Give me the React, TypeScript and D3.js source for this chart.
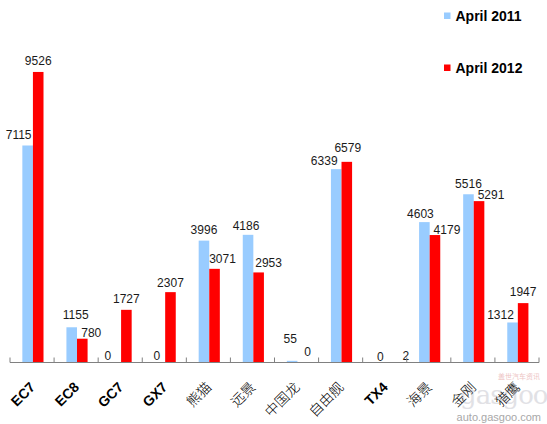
import React from "react";
import * as d3 from "d3";

// models and monthly sales
const categories = ["EC7", "EC8", "GC7", "GX7", "熊猫", "远景", "中国龙", "自由舰", "TX4", "海景", "金刚", "猎鹰"];
const series = ["April 2011", "April 2012"];
const sales2011 = [7115, 1155, 0, 0, 3996, 4186, 55, 6339, 0, 4603, 5516, 1312];
const sales2012 = [9526, 780, 1727, 2307, 3071, 2953, 0, 6579, 2, 4179, 5291, 1947];

// hand-placed label nudges from the original chart (dx from bar centre, gap above bar)
const labelDx2011 = [-9, 4, -8, -3, 0, -2, -2, -12, 0, -4, 0, -12];
const labelDx2012 = [0, 9, 0, 0, 8, 10, 5, 1, 15, 12, 12, 0];
const labelGap2011 = [6.5, 8, 2.5, 2.5, 7, 4.5, 18, 4.5, 2, 4, 6.5, 3];
const labelGap2012 = [6.5, 2, 7, 5, 6, 5, 6.5, 10, 2, 1.5, 2.5, 7];

const colors = ["#99ccff", "#ff0000"];

const W = 547;
const H = 424;

const isLatin = (s: string) => /^[A-Za-z0-9]+$/.test(s);

export default function App() {
  const x = d3.scaleBand<string>().domain(categories).range([10, 539]).padding(0);
  const bw = x.bandwidth();
  const x1 = d3.scaleBand<string>().domain(series).range([bw * 0.28, bw * 0.76]).padding(0);
  const y = d3.scaleLinear().domain([0, 10000]).range([362.5, 57.5]);

  const data = [sales2011, sales2012];
  const dxs = [labelDx2011, labelDx2012];
  const gaps = [labelGap2011, labelGap2012];

  const ticks = d3.range(categories.length + 1).map((i) => 10 + i * bw);

  return (
    <svg
      width={W}
      height={H}
      style={{ position: "absolute", left: 0, top: 0, background: "#fff" }}
      fontFamily="Arial, 'Liberation Sans', sans-serif"
    >
      {/* watermark (behind everything) */}
      <g opacity={0.5}>
        <text x={498} y={379} fontSize={7} fill="#d88" fontFamily="'Noto Sans CJK SC', sans-serif">
          盖世汽车资讯
        </text>
        <text x={460} y={404} fontSize={26} fill="#c4c4cc" fontFamily="'DejaVu Serif', serif" letterSpacing={-1}>
          gasgoo
        </text>
      </g>
      <text x={541} y={421} textAnchor="end" fontSize={11} fill="#a8a8a8">
        auto.gasgoo.com
      </text>

      {/* bars */}
      {series.map((s, si) => (
        <g key={s}>
          {categories.map((c, i) => {
            const v = data[si][i];
            const bx = (x(c) as number) + (x1(s) as number);
            const by = y(v);
            return (
              <rect
                key={c}
                x={bx}
                y={by}
                width={x1.bandwidth()}
                height={y(0) - by}
                fill={colors[si]}
              />
            );
          })}
        </g>
      ))}

      {/* value labels */}
      {series.map((s, si) => (
        <g key={s + "-lbl"} fontSize={12} fill="#1a1a1a" textAnchor="middle">
          {categories.map((c, i) => {
            const v = data[si][i];
            const cx = (x(c) as number) + (x1(s) as number) + x1.bandwidth() / 2 + dxs[si][i];
            return (
              <text key={c} x={cx} y={y(v) - gaps[si][i]}>
                {v}
              </text>
            );
          })}
        </g>
      ))}

      {/* axis */}
      <line x1={10} x2={539} y1={362.5} y2={362.5} stroke="#808080" strokeWidth={1} />
      {ticks.map((t) => (
        <line key={t} x1={t} x2={t} y1={357.5} y2={362.5} stroke="#808080" strokeWidth={1} />
      ))}

      {/* category labels, rotated 45 degrees */}
      {categories.map((c) => {
        const px = (x(c) as number) + bw / 2 + 4;
        const py = 388;
        const latin = isLatin(c);
        return (
          <g key={c} transform={`translate(${px},${py}) rotate(-45)`}>
            <text
              x={0}
              y={0}
              textAnchor="end"
              fontSize={14}
              fontWeight={latin ? 700 : 300}
              fontFamily={latin ? "Arial, 'Liberation Sans', sans-serif" : "'Noto Sans CJK SC', sans-serif"}
              fill="#000"
            >
              {c}
            </text>
          </g>
        );
      })}

      {/* legend */}
      {series.map((s, si) => {
        const ly = si === 0 ? 20.5 : 72.5;
        return (
          <g key={s + "-leg"}>
            <rect x={444} y={ly - 8} width={6.5} height={6.5} fill={colors[si]} />
            <text x={455.5} y={ly} fontSize={14} fontWeight={700} fill="#000">
              {s}
            </text>
          </g>
        );
      })}
    </svg>
  );
}
